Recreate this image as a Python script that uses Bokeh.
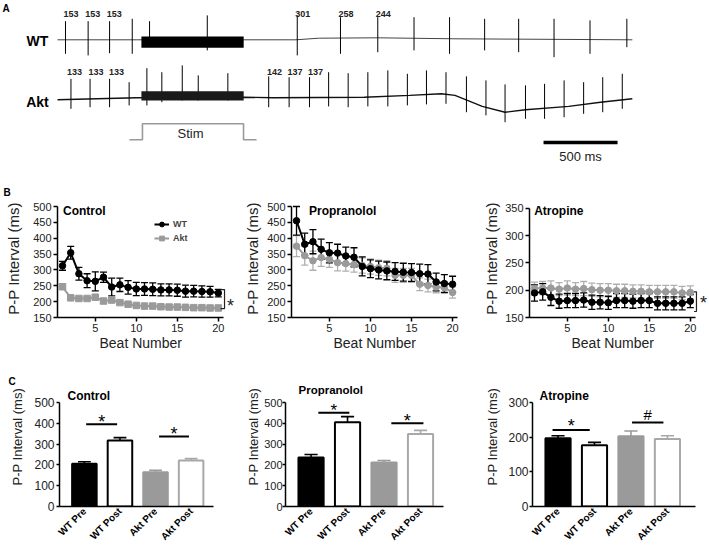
import math
from bokeh.plotting import figure
from bokeh.models import (Range1d, FixedTicker, Label, Legend, LegendItem, Title,
                          ColumnDataSource, Whisker, TeeHead)
from bokeh.layouts import column, row
from bokeh.embed import file_html
from bokeh.resources import INLINE

FONT = "Liberation Sans"
INK = "#222222"
AKT_GRAY = "#9a9a9a"
AKT_ERR = "#b0b0b0"

# ================= Panel A : ECG traces (time in ms, amplitude in mV) =================
wt_spike_ms = [54, 207, 352, 505, 622, 1012, 1620, 1912, 2164, 2409, 2649, 2886, 3116, 3355, 3598, 3847]
wt_spike_hi = [0.93, 0.93, 0.93, 1.05, 0.93, 1.22, 1.22, 1.13, 1.13, 1.13, 1.13, 1.05, 1.05, 1.05, 0.97, 1.05]
wt_spike_lo = [-0.70, -0.78, -0.67, -0.70, -0.28, -0.53, -0.78, -0.70, -0.62, -0.53, -0.70, -0.53, -0.62, -0.87, -0.70, -0.37]
wt_base_ms = [0, 536, 1258, 1611, 1764, 2164, 2686, 3884]
wt_base_mv = [0.0, 0.0, 0.0, 0.0, 0.08, 0.10, 0.05, 0.0]

akt_spike_ms = [91, 220, 352, 484, 604, 705, 843, 951, 1151, 1427, 1565, 1703, 1832, 1964,
                2097, 2232, 2364, 2493, 2625, 2763, 2895, 3024, 3162, 3291, 3423, 3555, 3684, 3816]
akt_spike_hi = [1.05, 1.05, 1.05, 0.88, 1.58, 1.38, 1.72, 1.22, 1.33, 1.17, 1.13, 1.13, 1.38, 1.33,
                1.38, 1.47, 1.30, 1.47, 1.38, 1.17, 0.97, 0.77, 0.72, 0.80, 0.97, 0.88, 1.13, 1.30]
akt_spike_lo = [-0.45, -0.37, -0.37, -0.28, -0.28, -0.12, -0.03, -0.03, -0.03, -0.37, -0.37, -0.37, -0.33, -0.37,
                -0.33, -0.33, -0.28, -0.23, -0.20, -0.62, -0.78, -1.12, -0.95, -0.95, -0.87, -0.70, -0.62, -0.45]
akt_base_ms = [0, 536, 1258, 1457, 2072, 2379, 2594, 2686, 2870, 3024, 3162, 3454, 3669, 3884]
akt_base_mv = [0.0, 0.10, 0.13, 0.10, 0.13, 0.22, 0.30, 0.22, -0.33, -0.62, -0.50, -0.33, -0.12, 0.05]

burst_ms = [567, 1258]
wt_burst_mv = [0.17, -0.40]
akt_burst_mv = [0.43, -0.03]

stim_ms = [486, 574, 574, 1257, 1257, 1345]
stim_level = [0, 0, 1, 1, 0, 0]

scale_bar_start_ms = 3284
scale_bar_ms = 500

wt_rr_text = ["153", "153", "153", "301", "258", "244"]
wt_rr_ms = [91, 238, 383, 1657, 1949, 2201]
akt_rr_text = ["133", "133", "133", "142", "137", "137"]
akt_rr_ms = [115, 260, 398, 1466, 1605, 1743]

# ================= Panel B : P-P interval vs beat number =================
beats = list(range(1, 21))

ctrl_wt = [313, 354, 288, 266, 264, 277, 246, 253, 245, 240, 240, 239, 237, 237, 236, 233, 233, 232, 231, 227]
ctrl_wt_err = [14, 20, 20, 22, 30, 16, 28, 21, 21, 21, 20, 20, 19, 19, 19, 19, 18, 18, 17, 12]
ctrl_akt = [247, 212, 210, 210, 214, 202, 205, 197, 192, 188, 186, 186, 184, 183, 183, 182, 181, 181, 180, 180]
ctrl_akt_err = [8, 5, 5, 6, 8, 5, 5, 4, 4, 4, 4, 4, 4, 4, 4, 4, 4, 4, 4, 4]

prop_wt = [455, 381, 389, 365, 354, 353, 344, 340, 311, 304, 300, 297, 295, 293, 292, 288, 287, 262, 257, 255]
prop_wt_err = [45, 35, 38, 32, 32, 28, 28, 30, 30, 28, 28, 28, 28, 28, 28, 30, 30, 28, 28, 25]
prop_akt = [375, 345, 329, 339, 334, 323, 320, 317, 314, 311, 307, 305, 283, 283, 283, 255, 251, 246, 244, 229]
prop_akt_err = [33, 30, 30, 28, 26, 26, 24, 24, 24, 24, 24, 24, 22, 22, 22, 20, 20, 18, 18, 18]

atro_wt = [195, 197, 187, 180, 181, 181, 182, 178, 178, 177, 181, 181, 180, 181, 181, 176, 176, 176, 176, 180]
atro_wt_err = [15, 15, 15, 13, 13, 13, 13, 13, 12, 12, 13, 13, 13, 13, 13, 12, 12, 12, 12, 12]
atro_akt = [203, 204, 204, 202, 204, 202, 203, 201, 200, 200, 199, 199, 198, 198, 197, 197, 197, 197, 195, 196]
atro_akt_err = [12, 12, 13, 12, 13, 12, 13, 12, 12, 12, 12, 12, 12, 12, 12, 12, 12, 12, 12, 12]

# ================= Panel C : Pre / Post bars =================
groups = ["WT Pre", "WT Post", "Akt Pre", "Akt Post"]
ctrl_mean = [205, 317, 165, 221]
ctrl_sem = [10, 14, 9, 9]
prop_mean = [235, 405, 212, 348]
prop_sem = [15, 27, 9, 18]
atro_mean = [197, 177, 203, 195]
atro_sem = [7, 8, 15, 9]

bar_fill = ["black", "white", AKT_GRAY, "white"]
bar_line = ["black", "black", AKT_GRAY, "#a8a8a8"]


def new_fig(w, h, xr, yr, left, right, top, bottom, axes=True):
    kw = {}
    if not axes:
        kw = dict(x_axis_location=None, y_axis_location=None)
    p = figure(width=w, height=h, x_range=xr, y_range=yr, toolbar_location=None,
               output_backend="svg", min_border_left=left, min_border_right=right,
               min_border_top=top, min_border_bottom=bottom, **kw)
    p.outline_line_color = None
    p.grid.visible = False
    p.background_fill_color = "white"
    p.border_fill_color = "white"
    return p


def text(p, x, y, s, size, bold=False, align="center", baseline="middle", color="black", **kw):
    p.add_layout(Label(x=x, y=y, text=s, text_font=FONT, text_font_size=f"{size}px",
                       text_font_style="bold" if bold else "normal", text_align=align,
                       text_baseline=baseline, text_color=color, **kw))


def side_title(p, s, side, size, offset, standoff, bold=False, valign="bottom", color="black"):
    p.add_layout(Title(text=s, align="left", offset=offset, standoff=standoff, vertical_align=valign,
                       text_font=FONT, text_font_size=f"{size}px",
                       text_font_style="bold" if bold else "normal", text_color=color), side)


def style_axes(p, tick_size, tick_out=4, lab_standoff=2):
    for ax in p.axis:
        ax.axis_line_color = "black"
        ax.axis_line_width = 1.5
        ax.major_tick_line_color = "black"
        ax.major_tick_line_width = 1.5
        ax.major_tick_out = tick_out
        ax.major_tick_in = 0
        ax.minor_tick_line_color = None
        ax.major_label_text_font = FONT
        ax.major_label_text_font_size = f"{tick_size}px"
        ax.major_label_text_color = INK
        ax.major_label_standoff = lab_standoff
        ax.axis_label_text_font = FONT
        ax.axis_label_text_font_style = "normal"
        ax.axis_label_text_color = INK


# ---------------- Figure A ----------------
pa = new_fig(709, 199, Range1d(0, 709), Range1d(199, 0), 0, 0, 0, 0, axes=False)
pa.extra_x_ranges = {"ms": Range1d(-385.1, 4405.4)}
pa.extra_y_ranges = {"wt": Range1d(-7.985, 1.965), "akt": Range1d(-4.985, 4.965),
                     "stim": Range1d(-3.731, 8.706)}

pa.line(wt_base_ms, wt_base_mv, x_range_name="ms", y_range_name="wt", line_color="#444444", line_width=1)
pa.segment(x0=wt_spike_ms, y0=wt_spike_lo, x1=wt_spike_ms, y1=wt_spike_hi,
           x_range_name="ms", y_range_name="wt", line_color="black", line_width=1)
pa.quad(left=[burst_ms[0]], right=[burst_ms[1]], top=[wt_burst_mv[0]], bottom=[wt_burst_mv[1]],
        x_range_name="ms", y_range_name="wt", fill_color="black", line_color=None)

pa.line(akt_base_ms, akt_base_mv, x_range_name="ms", y_range_name="akt", line_color="#111111", line_width=1.4)
pa.segment(x0=akt_spike_ms, y0=akt_spike_lo, x1=akt_spike_ms, y1=akt_spike_hi,
           x_range_name="ms", y_range_name="akt", line_color="black", line_width=1)
pa.quad(left=[burst_ms[0]], right=[burst_ms[1]], top=[akt_burst_mv[0]], bottom=[akt_burst_mv[1]],
        x_range_name="ms", y_range_name="akt", fill_color="#1a1a1a", line_color=None)

pa.line(stim_ms, stim_level, x_range_name="ms", y_range_name="stim", line_color="#9a9a9a", line_width=1.6)
pa.segment(x0=[scale_bar_start_ms], x1=[scale_bar_start_ms + scale_bar_ms], y0=[142], y1=[142],
           x_range_name="ms", line_color="black", line_width=3.5)

text(pa, 5.5, 7.5, "A", 10, bold=True)
text(pa, 6.5, 191.5, "B", 10, bold=True)
text(pa, 37, 40, "WT", 14, bold=True)
text(pa, 37, 101, "Akt", 14, bold=True)
for t, s in zip(wt_rr_ms, wt_rr_text):
    text(pa, t, 13, s, 9, bold=True, color=INK, x_range_name="ms")
for t, s in zip(akt_rr_ms, akt_rr_text):
    text(pa, t, 71, s, 9, bold=True, color=INK, x_range_name="ms")
text(pa, 899, 133, "Stim", 13, color=INK, x_range_name="ms")
text(pa, scale_bar_start_ms + scale_bar_ms / 2, 156, f"{scale_bar_ms} ms", 13, color=INK, x_range_name="ms")


# ---------------- Figures B ----------------
def panel_b(fig_w, left, right, frame_h, yr, y_end, x_end, yticks, wt, wt_err, akt, akt_err,
            akt_marker, ylab_standoff, title, title_xy):
    H = 174
    p = new_fig(fig_w, H, Range1d(0.39, x_end), Range1d(yr[0], y_end), left, right, 0, H - frame_h)
    p.xaxis.ticker = FixedTicker(ticks=[5, 10, 15, 20])
    p.yaxis.ticker = FixedTicker(ticks=yticks)
    p.xaxis.bounds = (0.39, 20.6)
    p.yaxis.bounds = yr
    p.yaxis.axis_label = "P-P Interval (ms)"
    style_axes(p, 11)
    p.yaxis.axis_label_text_font_size = "15px"
    p.yaxis.axis_label_standoff = ylab_standoff
    side_title(p, "Beat Number", "below", 14, 42, 0, valign="top", color=INK)

    series = [(akt, akt_err, AKT_GRAY, AKT_ERR, akt_marker), (wt, wt_err, "black", "black", "circle")]
    rends = []
    for vals, errs, col, ecol, mk in series:
        src = ColumnDataSource(dict(x=beats, y=vals,
                                    lo=[v - e for v, e in zip(vals, errs)],
                                    hi=[v + e for v, e in zip(vals, errs)]))
        p.add_layout(Whisker(source=src, base="x", upper="hi", lower="lo", line_color=ecol, line_width=1.3,
                             upper_head=TeeHead(size=7, line_color=ecol, line_width=1.3),
                             lower_head=TeeHead(size=7, line_color=ecol, line_width=1.3)))
        rl = p.line("x", "y", source=src, line_color=col, line_width=2)
        rm = p.scatter("x", "y", source=src, marker=mk, size=6.5, fill_color=col, line_color=col)
        rends.append((rl, rm))
    text(p, title_xy[0], title_xy[1], title, 12, bold=True, align="left")
    return p, rends


b1, r1 = panel_b(236, 57, 0, 118, (150, 500), 522.1, 22.22, [150, 200, 250, 300, 350, 400, 450, 500],
                 ctrl_wt, ctrl_wt_err, ctrl_akt, ctrl_akt_err, "square", 8, "Control", (1.06, 487))
legend = Legend(items=[LegendItem(label="WT", renderers=list(r1[1])),
                       LegendItem(label="Akt", renderers=list(r1[0]))],
                location=(97, 73), glyph_width=15, glyph_height=12, label_height=12,
                spacing=2, padding=0, margin=0, label_standoff=4,
                label_text_font=FONT, label_text_font_size="9px", label_text_font_style="bold",
                border_line_color=None, background_fill_alpha=0)
b1.add_layout(legend)
b1.line([20.27, 20.76, 20.76, 20.27], [238, 238, 178, 178], line_color=INK, line_width=1.2)
text(b1, 21.49, 186, "*", 18, color=INK)

b2, _ = panel_b(236, 55, 15, 118, (150, 500), 522.1, 20.6, [150, 200, 250, 300, 350, 400, 450, 500],
                prop_wt, prop_wt_err, prop_akt, prop_akt_err, "circle", 3, "Propranolol", (2.52, 487))

b3, _ = panel_b(237, 57, 0, 119, (150, 350), 366.4, 22.34, [150, 200, 250, 300, 350],
                atro_wt, atro_wt_err, atro_akt, atro_akt_err, "circle", 2, "Atropine", (0.96, 346))
b3.line([20.45, 20.75, 20.75, 20.45], [197, 197, 161, 161], line_color=INK, line_width=1.2)
text(b3, 21.61, 176, "*", 18, color=INK)


# ---------------- Figures C ----------------
def panel_c(fig_w, left, right, x_end, ymax, yticks, means, sems, tick_size, tick_standoff, ylab_standoff,
            title, title_size, title_offset, title_standoff,
            sig_x0, sig_x1, sig_y, marks, mark_y, mark_size, letter=None):
    H = 177
    p = new_fig(fig_w, H, Range1d(0.3, x_end), Range1d(0, ymax), left, right, 29, 44)
    side_title(p, title, "above", title_size, title_offset, title_standoff, bold=True)
    if letter:
        side_title(p, letter, "above", 10, -51, 0, bold=True)
    xs = list(range(1, len(groups) + 1))
    p.xaxis.ticker = FixedTicker(ticks=xs)
    p.xaxis.major_label_overrides = {x: g for x, g in zip(xs, groups)}
    p.yaxis.ticker = FixedTicker(ticks=yticks)
    style_axes(p, tick_size, tick_out=3, lab_standoff=tick_standoff)
    p.xaxis.major_tick_line_color = None
    p.xaxis.major_tick_out = 0
    p.xaxis.major_label_orientation = math.pi / 4
    p.xaxis.major_label_text_font_size = "10px"
    p.xaxis.major_label_text_font_style = "bold"
    p.xaxis.major_label_text_color = "black"
    p.xaxis.major_label_standoff = 3
    side_title(p, "P-P Interval (ms)", "left", 13, 21, ylab_standoff, color=INK)

    src = ColumnDataSource(dict(x=xs, top=means, err_top=[m + s for m, s in zip(means, sems)],
                                fill=bar_fill, line=bar_line,
                                cap0=[x - 0.18 for x in xs], cap1=[x + 0.18 for x in xs]))
    p.segment(x0="x", y0="top", x1="x", y1="err_top", source=src, line_color="line", line_width=1.6)
    p.segment(x0="cap0", y0="err_top", x1="cap1", y1="err_top", source=src, line_color="line", line_width=1.6)
    p.vbar(x="x", top="top", bottom=0, width=0.69, source=src, fill_color="fill",
           line_color="line", line_width=2)
    p.segment(x0=sig_x0, x1=sig_x1, y0=sig_y, y1=sig_y, line_color="black", line_width=2)
    for x0, x1, my, m, ms in zip(sig_x0, sig_x1, mark_y, marks, mark_size):
        text(p, (x0 + x1) / 2, my, m, ms, color="black")
    return p


c1 = panel_c(236, 55, 23, 4.63, 500, [0, 100, 200, 300, 400, 500], ctrl_mean, ctrl_sem, 12, 2, 14,
             "Control", 12, 8, 0,
             [1.05, 3.1], [1.92, 3.94], [396, 336], ["*", "*"], [406, 347], [18, 18], letter="C")
c2 = panel_c(236, 49, 29, 4.63, 500, [0, 100, 200, 300, 400, 500], prop_mean, prop_sem, 11, 0, 1,
             "Propranolol", 11.5, 13, 14,
             [1.2, 3.2], [2.05, 4.08], [451, 400], ["*", "*"], [462, 412], [17, 18])
c3 = panel_c(237, 60, 14, 4.77, 300, [0, 100, 200, 300], atro_mean, atro_sem, 12, 1, 12,
             "Atropine", 12, 7, 0,
             [0.85, 3.03], [1.87, 3.89], [221, 242], ["*", "#"], [231, 265], [18, 15])

root = column(pa, row(b1, b2, b3), row(c1, c2, c3))

open("out.html", "w").write(file_html(root, INLINE))
